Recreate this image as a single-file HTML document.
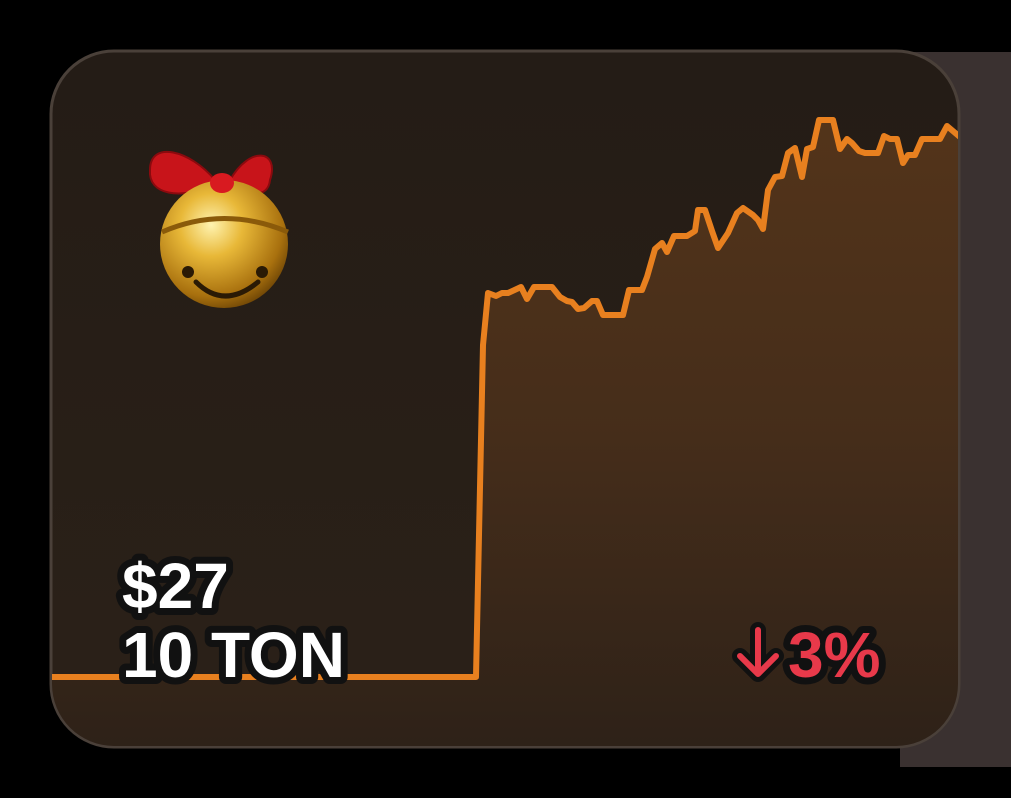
<!DOCTYPE html>
<html><head><meta charset="utf-8"><style>
html,body{margin:0;padding:0;background:#000;width:1011px;height:798px;overflow:hidden}
svg{display:block}
text{font-family:"Liberation Sans",sans-serif;font-weight:bold;paint-order:stroke;stroke-linejoin:round}
</style></head><body>
<svg width="1011" height="798" viewBox="0 0 1011 798">
<defs>
<linearGradient id="bg" x1="0" y1="0" x2="0" y2="1"><stop offset="0" stop-color="#241c16"/><stop offset="1" stop-color="#2b2118"/></linearGradient>
<linearGradient id="fill" x1="0" y1="0" x2="0" y2="1"><stop offset="0" stop-color="#53341a"/><stop offset="0.5" stop-color="#452d1a"/><stop offset="1" stop-color="#2d2118"/></linearGradient>
<radialGradient id="gold" cx="0.4" cy="0.35" r="0.7"><stop offset="0" stop-color="#fff3b0"/><stop offset="0.35" stop-color="#e8b838"/><stop offset="0.8" stop-color="#a8700e"/><stop offset="1" stop-color="#6a4205"/></radialGradient>
<clipPath id="cardclip"><rect x="52" y="52" width="906" height="694" rx="62"/></clipPath>
</defs>
<rect x="900" y="52" width="111" height="715" fill="#3a3130"/>
<rect x="51" y="51" width="908" height="696" rx="63" fill="url(#bg)" stroke="#4a4039" stroke-width="3"/>
<g clip-path="url(#cardclip)">
<path id="area" fill="url(#fill)"/>
<path id="line" fill="none" stroke="#e8801f" stroke-width="6" stroke-linejoin="round"/>
</g>
<g>
<path d="M215 180 C190 150 150 140 150 170 C148 195 180 200 215 185 Z" fill="#c8141a" stroke="#8a0a0e" stroke-width="2"/>
<path d="M230 180 C250 145 280 150 270 180 C268 200 245 195 230 185 Z" fill="#c8141a" stroke="#8a0a0e" stroke-width="2"/>
<path d="M205 185 L175 215 L185 218 L210 192 Z" fill="#b01015"/>
<path d="M240 185 L262 210 L252 214 L232 192 Z" fill="#b01015"/>
<circle cx="224" cy="244" r="64" fill="url(#gold)"/>
<path d="M162 232 Q224 205 288 232" fill="none" stroke="#8a5a0a" stroke-width="5"/>
<path d="M196 282 Q224 310 258 282" fill="none" stroke="#2a1a05" stroke-width="5" stroke-linecap="round"/>
<circle cx="188" cy="272" r="6" fill="#2a1a05"/><circle cx="262" cy="272" r="6" fill="#2a1a05"/>
<ellipse cx="222" cy="183" rx="12" ry="10" fill="#d81a20"/>
</g>
<text x="122" y="608" font-size="64" fill="#fff" stroke="#111" stroke-width="14">$27</text>
<text x="122" y="677" font-size="64" fill="#fff" stroke="#111" stroke-width="14">10 TON</text>
<g>
<path d="M758 630 V674 M740 656 L758 674 L776 656" fill="none" stroke="#111" stroke-width="16" stroke-linecap="round" stroke-linejoin="round"/>
<path d="M758 630 V674 M740 656 L758 674 L776 656" fill="none" stroke="#e8394a" stroke-width="6" stroke-linecap="round" stroke-linejoin="round"/>
</g>
<text x="788" y="677" font-size="64" fill="#e8394a" stroke="#111" stroke-width="14">3%</text>
</svg>
<script>
const times=[52,476,483,488,496,502,508,521,527,534,552,560,567,572,578,584,592,597,603,623,629,642,647,655,662,667,674,687,695,698,705,712,718,728,737,743,753,758,763,768,775,782,788,795,802,807,813,819,833,840,847,852,859,865,878,884,890,897,903,908,915,922,940,947,960];
const prices=[0,0,33.2,38.4,38.1,38.4,38.4,39.0,37.8,39.0,39.0,38.0,37.6,37.5,36.8,36.9,37.6,37.6,36.2,36.2,38.7,38.7,40.0,42.8,43.4,42.5,44.1,44.1,44.6,46.7,46.7,44.6,42.9,44.4,46.4,46.9,46.2,45.7,44.8,48.7,50.0,50.1,52.4,52.9,50.0,52.8,53.0,55.7,55.7,52.8,53.8,53.4,52.6,52.4,52.4,54.1,53.8,53.8,51.4,52.2,52.2,53.8,53.8,55.1,54.0];
const x0=52,x1=960,t0=52,t1=960;
function sx(t){return x0+(t-t0)/(t1-t0)*(x1-x0);}
const yBase=677,yTop=120,pMax=55.7;
function sy(p){return yBase-(p/pMax)*(yBase-yTop);}
let d='';
for(let i=0;i<times.length;i++){d+=(i?'L':'M')+sx(times[i]).toFixed(1)+' '+sy(prices[i]).toFixed(1);}
document.getElementById('line').setAttribute('d',d);
document.getElementById('area').setAttribute('d',d+'L'+sx(times[times.length-1])+' 760L'+sx(times[0])+' 760Z');
</script>
</body></html>
